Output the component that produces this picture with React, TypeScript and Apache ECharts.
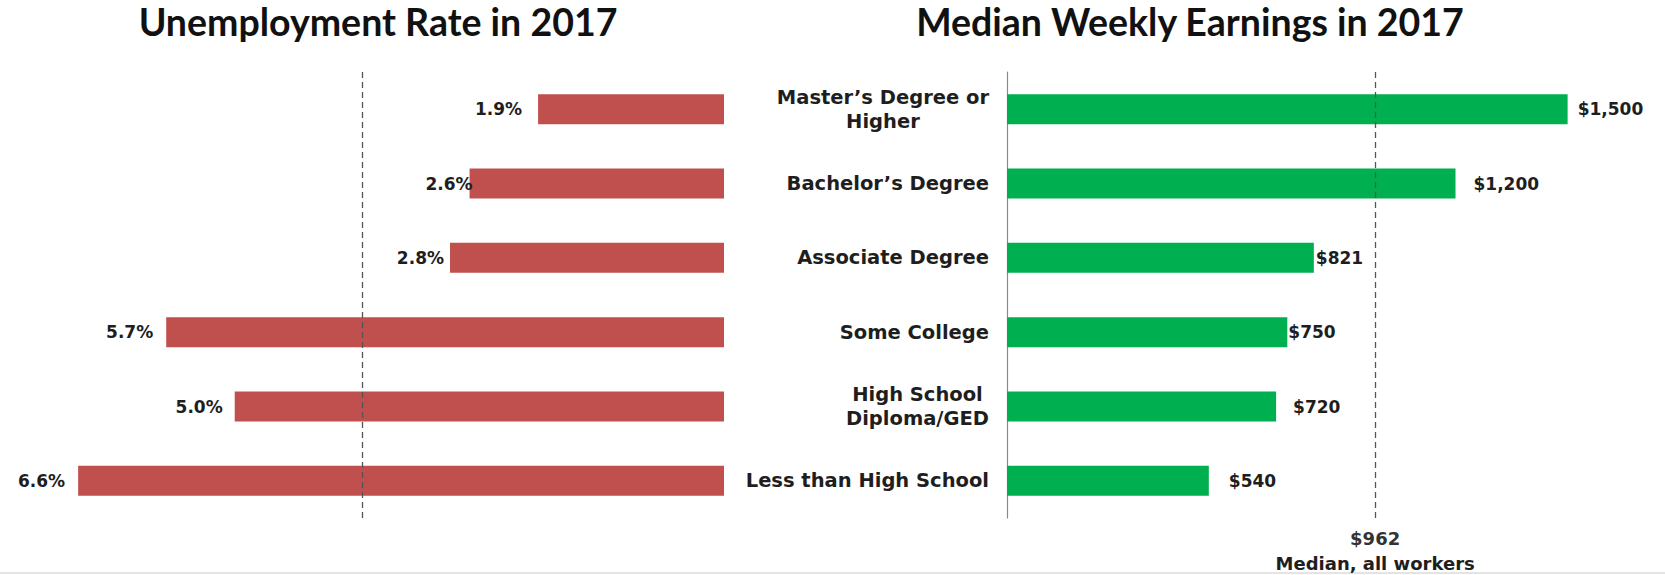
import React, { useEffect, useRef } from "react";
import * as echarts from "echarts";

const categories = [
  "Master’s Degree or\nHigher",
  "Bachelor’s Degree",
  "Associate Degree",
  "Some College",
  "High School\nDiploma/GED",
  "Less than High School",
];
const unemploymentRates = [1.9, 2.6, 2.8, 5.7, 5.0, 6.6];
const weeklyEarnings = [1500, 1200, 821, 750, 720, 540];
const unemploymentRefLine = 3.7;
const medianEarningsLabel = 962;
const medianEarningsLinePos = 985;
const titles = ["Unemployment Rate in 2017", "Median Weekly Earnings in 2017"];

// label offsets (presentation only)
const leftLabelGaps = [16, -3, 6, 13, 12, 13];
const rightLabelGaps = [10, 18, 2, 1, 17, 20];

const RED = "#C0504D";
const GREEN = "#00B050";
const LABEL_FONT = "'DejaVu Sans', Arial, sans-serif";
const TEXT = "#1e1e1e";

const fmtMoney = (v: number) => "$" + v.toString().replace(/\B(?=(\d{3})+(?!\d))/g, ",");

export default function App() {
  const ref = useRef<HTMLDivElement>(null);
  useEffect(() => {
    document.body.style.margin = "0";
    if (!ref.current) return;
    const chart = echarts.init(ref.current, null, { renderer: "svg" });
    const titleStyle = { fontFamily: "Lato, sans-serif", fontWeight: "bold", fontSize: 37.5, color: "#111" };
    const option: any = {
      animation: false,
      backgroundColor: "#ffffff",
      title: [
        { text: titles[0], left: 378, top: 2, padding: 0, textAlign: "center", textStyle: titleStyle },
        { text: titles[1], left: 1190, top: 2, padding: 0, textAlign: "center", textStyle: titleStyle },
      ],
      grid: [
        { left: 39, width: 685, top: 72, height: 446 },
        { left: 1007, width: 598, top: 72, height: 446 },
      ],
      xAxis: [
        { gridIndex: 0, type: "value", min: 0, max: 7, inverse: true, show: false, splitLine: { show: false } },
        { gridIndex: 1, type: "value", min: 0, max: 1600, show: false, splitLine: { show: false } },
      ],
      yAxis: [
        { gridIndex: 0, type: "category", data: categories, inverse: true, show: false },
        {
          gridIndex: 1,
          type: "category",
          data: categories,
          inverse: true,
          axisLine: { show: true, lineStyle: { color: "#8a8a8a", width: 1.2 } },
          axisTick: { show: false },
          axisLabel: {
            margin: 18,
            align: "right",
            formatter: (v: string) => v.split("\n").map((l) => `{c|${l}}`).join("\n"),
            rich: {
              c: {
                align: "center",
                fontFamily: LABEL_FONT,
                fontWeight: "bold",
                fontSize: 19.5,
                lineHeight: 24,
                color: TEXT,
              },
            },
          },
        },
      ],
      series: [
        {
          type: "bar",
          xAxisIndex: 0,
          yAxisIndex: 0,
          barWidth: 30,
          itemStyle: { color: RED },
          data: unemploymentRates.map((v, i) => ({ value: v, label: { distance: leftLabelGaps[i] } })),
          label: {
            show: true,
            position: "left",
            formatter: (p: any) => p.value.toFixed(1) + "%",
            fontFamily: LABEL_FONT,
            fontWeight: "bold",
            fontSize: 17,
            color: TEXT,
          },
          markLine: {
            silent: true,
            symbol: "none",
            label: { show: false },
            lineStyle: { type: [6, 4], color: "#555", width: 1.3 },
            data: [{ xAxis: unemploymentRefLine }],
          },
        },
        {
          type: "bar",
          xAxisIndex: 1,
          yAxisIndex: 1,
          barWidth: 30,
          itemStyle: { color: GREEN },
          data: weeklyEarnings.map((v, i) => ({ value: v, label: { distance: rightLabelGaps[i] } })),
          label: {
            show: true,
            position: "right",
            formatter: (p: any) => fmtMoney(p.value),
            fontFamily: LABEL_FONT,
            fontWeight: "bold",
            fontSize: 17,
            color: TEXT,
          },
          markLine: {
            silent: true,
            symbol: "none",
            lineStyle: { type: [6, 4], color: "#555", width: 1.3 },
            label: {
              show: true,
              position: "end",
              distance: 8,
              formatter: () => `{a|${fmtMoney(medianEarningsLabel)}}\n{b|Median, all workers}`,
              rich: {
                a: { fontFamily: LABEL_FONT, fontWeight: "bold", fontSize: 18, lineHeight: 25, color: "#333", align: "center" },
                b: { fontFamily: LABEL_FONT, fontWeight: "bold", fontSize: 18, lineHeight: 24, color: TEXT, align: "center" },
              },
            },
            data: [{ xAxis: medianEarningsLinePos }],
          },
        },
      ],
      graphic: [
        {
          type: "line",
          silent: true,
          shape: { x1: 0, y1: 573, x2: 1665, y2: 573 },
          style: { stroke: "#e4e4e4", lineWidth: 2 },
        },
      ],
    };
    chart.setOption(option);
    return () => chart.dispose();
  }, []);
  return <div ref={ref} style={{ width: 1665, height: 575 }} />;
}
